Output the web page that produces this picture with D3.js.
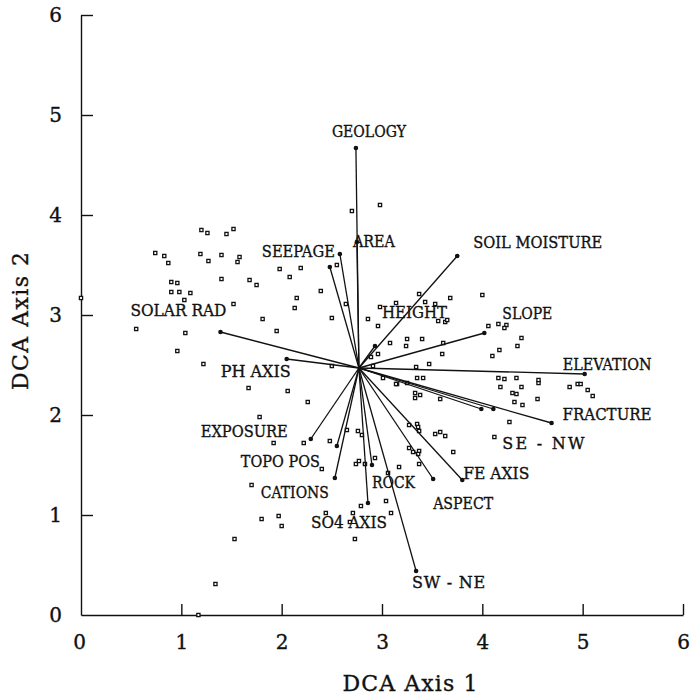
<!DOCTYPE html>
<html>
<head>
<meta charset="utf-8">
<script src="https://cdn.jsdelivr.net/npm/d3@7"></script>
<style>
  body { margin: 0; background: #fff; }
  svg text { font-family: "DejaVu Serif", "Liberation Serif", serif; fill: #111; stroke: #111; stroke-width: 0.35px; }
</style>
</head>
<body>
<div id="main"></div>
<script>
const ctx = {
    w: 693,
    h: 695,
};

// tick values for both axes
const xTicks = [0, 1, 2, 3, 4, 5, 6];
const yTicks = [0, 1, 2, 3, 4, 5, 6];

// biplot origin (centroid) in DCA units
const centroid = [2.77, 2.47];

// environmental vectors (endpoints in DCA units), "" = unlabeled
const vectorNames = ["GEOLOGY", "AREA", "SEEPAGE", "", "SOIL MOISTURE", "HEIGHT", "SLOPE",
    "ELEVATION", "SE - NW", "", "FRACTURE", "FE AXIS", "ASPECT", "ROCK", "SW - NE",
    "SO4 AXIS", "CATIONS", "TOPO POS", "EXPOSURE", "PH AXIS", "SOLAR RAD"];
const vectorX = [2.74, 2.75, 2.58, 2.48, 3.75, 2.93, 4.02,
    5.02, 4.11, 3.99, 4.69, 3.80, 3.51, 2.90, 3.34,
    2.86, 2.53, 2.55, 2.29, 2.05, 1.39];
const vectorY = [4.67, 3.73, 3.61, 3.48, 3.59, 2.69, 2.82,
    2.41, 2.06, 2.06, 1.92, 1.35, 1.36, 1.50, 0.44,
    1.12, 1.37, 1.69, 1.76, 2.56, 2.83];

// sample scores
const sampleX = [0.00, 0.55, 0.74, 0.83, 0.87, 0.90, 0.96, 0.90, 0.98, 1.09, 1.03, 1.04, 0.96,
    1.20, 1.26, 1.45, 1.52, 1.19, 1.27, 1.40, 1.58, 1.56, 1.40, 1.68, 1.75, 1.52, 1.81, 1.95,
    1.98, 2.08, 2.19, 2.39, 2.15, 2.13, 2.50, 2.64, 2.55, 1.22, 1.67, 2.06, 2.26, 1.78, 1.92,
    2.22, 2.48, 2.65, 2.76, 2.80, 2.40, 2.74, 2.77, 2.83, 2.93, 1.70, 2.79, 3.04, 1.80, 1.97,
    2.00, 2.44, 2.71, 2.68, 3.09, 1.53, 2.73, 1.34, 1.17, 3.15, 3.25, 3.33, 3.38, 3.33, 3.58,
    4.18, 4.30, 4.34, 4.39, 4.56, 4.32, 4.40, 4.55, 4.87, 4.95, 4.98, 5.05, 5.10, 4.27, 3.27,
    3.35, 3.36, 3.37, 3.53, 3.58, 3.63, 4.12, 3.27, 3.31, 3.37, 3.36, 3.71, 3.17, 3.37, 3.06,
    2.70, 2.98, 3.37, 3.43, 3.53, 3.68, 4.00, 3.14, 2.98, 2.86, 2.96, 3.56, 3.63, 3.65, 4.06,
    4.16, 4.24, 4.22, 3.08, 3.25, 3.24, 3.40, 3.61, 4.39, 4.35, 2.89, 2.96, 3.60, 4.17, 4.10,
    2.91, 3.34, 3.47, 3.01, 3.14, 3.35, 3.41, 4.16, 4.22, 4.34, 4.56, 2.50];
const sampleY = [3.17, 2.86, 3.62, 3.59, 3.52, 3.33, 3.32, 3.23, 3.23, 3.22, 3.15, 2.82, 2.64,
    3.85, 3.82, 3.81, 3.86, 3.61, 3.54, 3.60, 3.58, 3.53, 3.36, 3.35, 3.30, 3.11, 2.96, 2.84,
    3.46, 3.38, 3.47, 3.24, 3.17, 3.07, 2.97, 3.11, 3.50, 2.51, 2.27, 2.24, 2.13, 1.98, 1.72,
    1.72, 1.74, 1.85, 1.84, 1.80, 1.46, 1.51, 1.54, 1.51, 1.57, 1.30, 1.09, 1.14, 0.96, 0.99,
    0.89, 1.02, 1.02, 0.93, 1.02, 0.76, 0.76, 0.31, 0.00, 2.31, 2.32, 2.22, 2.20, 2.17, 2.16,
    2.28, 2.22, 2.21, 2.28, 2.32, 2.13, 2.10, 2.16, 2.28, 2.31, 2.31, 2.25, 2.19, 1.93, 1.90,
    1.91, 1.88, 1.84, 1.81, 1.83, 1.79, 1.78, 1.67, 1.63, 1.64, 1.61, 1.63, 1.48, 1.51, 1.42,
    4.04, 4.10, 3.21, 3.13, 3.11, 3.17, 3.20, 3.12, 3.08, 2.96, 2.89, 2.94, 2.93, 2.95, 2.89,
    2.91, 2.90, 2.87, 2.72, 2.76, 2.69, 2.76, 2.72, 2.77, 2.69, 2.58, 2.61, 2.61, 2.65, 2.59,
    2.49, 2.48, 2.51, 2.37, 2.31, 2.37, 2.37, 2.37, 2.36, 2.37, 2.35, 2.49];

// label placement: pixel offset of text start/baseline from vector tip, and drawn width
const labelLayout = {
    "GEOLOGY": [-24, -11, 74],
    "AREA": [-4, 5, 42],
    "SEEPAGE": [-78, 3, 73],
    "SOIL MOISTURE": [16, -8, 129],
    "HEIGHT": [7, -28, 65],
    "SLOPE": [18, -14, 50],
    "ELEVATION": [-22, -4, 89],
    "SE - NW": [9, 40, 82],
    "FRACTURE": [11, -3, 89],
    "FE AXIS": [1, -1, 66],
    "ASPECT": [0, 30, 60],
    "ROCK": [0, 23, 43],
    "SW - NE": [-4, 17, 73],
    "SO4 AXIS": [-57, 25, 76],
    "CATIONS": [-74, 20, 68],
    "TOPO POS": [-96, 21, 79],
    "EXPOSURE": [-110, -2, 87],
    "PH AXIS": [-66, 18, 70],
    "SOLAR RAD": [-90, -16, 96],
};

function drawAxes(svg, x, y) {
    let gx = svg.append("g")
        .attr("transform", `translate(0, ${y(0)})`)
        .call(d3.axisBottom(x).tickValues(xTicks).tickFormat(d3.format("d"))
            .tickSizeInner(-11).tickSizeOuter(0).tickPadding(20));
    gx.selectAll(".tick line").filter(d => d == 0).remove();
    gx.selectAll("text").style("font-size", "20px").attr("dx", d => d == 0 ? "-2" : "0");

    let gy = svg.append("g")
        .attr("transform", `translate(${x(0)}, 0)`)
        .call(d3.axisLeft(y).tickValues(yTicks).tickFormat(d3.format("d"))
            .tickSizeInner(-12).tickSizeOuter(0).tickPadding(19));
    gy.selectAll(".tick line").filter(d => d == 0).remove();
    gy.selectAll("text").style("font-size", "20px");

    svg.selectAll(".domain, .tick line")
       .attr("stroke", "#111")
       .attr("stroke-width", 1.4);

    svg.append("text")
       .attr("x", 410)
       .attr("y", 691)
       .attr("text-anchor", "middle")
       .style("font-size", "22px")
       .attr("textLength", 135)
       .text("DCA Axis 1");

    svg.append("text")
       .attr("transform", "translate(28, 321) rotate(-90)")
       .attr("text-anchor", "middle")
       .style("font-size", "22px")
       .attr("textLength", 138)
       .text("DCA Axis 2");
}

function drawBiplot(svg) {
    let x = d3.scaleLinear().domain([0, 6]).range([81, 683]);
    let y = d3.scaleLinear().domain([0, 6]).range([615, 15]);

    drawAxes(svg, x, y);

    let samples = sampleX.map((v, i) => ({x: v, y: sampleY[i]}));
    svg.append("g").selectAll("rect")
       .data(samples)
       .enter().append("rect")
       .attr("x", d => x(d.x) - 1.6)
       .attr("y", d => y(d.y) - 1.6)
       .attr("width", 3.2)
       .attr("height", 3.2)
       .style("fill", "#fff")
       .style("stroke", "#111")
       .style("stroke-width", 1.3);

    let vectors = vectorNames.map((n, i) => ({name: n, x: vectorX[i], y: vectorY[i]}));
    let vg = svg.append("g");
    vg.selectAll("line")
      .data(vectors)
      .enter().append("line")
      .attr("x1", x(centroid[0]))
      .attr("y1", y(centroid[1]))
      .attr("x2", d => x(d.x))
      .attr("y2", d => y(d.y))
      .style("stroke", "#111")
      .style("stroke-width", 1.3);
    vg.selectAll("circle")
      .data(vectors)
      .enter().append("circle")
      .attr("cx", d => x(d.x))
      .attr("cy", d => y(d.y))
      .attr("r", 2.3)
      .style("fill", "#111");

    svg.append("g").selectAll("text")
       .data(vectors.filter(d => d.name != ""))
       .enter().append("text")
       .attr("x", d => x(d.x) + labelLayout[d.name][0])
       .attr("y", d => y(d.y) + labelLayout[d.name][1])
       .attr("textLength", d => labelLayout[d.name][2])
       .attr("lengthAdjust", d => d.name.includes(" - ") ? "spacing" : "spacingAndGlyphs")
       .style("font-size", "16px")
       .text(d => d.name);
}

function createViz() {
    let svgEl = d3.select("#main").append("svg");
    svgEl.attr("width", ctx.w);
    svgEl.attr("height", ctx.h);
    drawBiplot(svgEl);
}

createViz();
</script>
</body>
</html>
